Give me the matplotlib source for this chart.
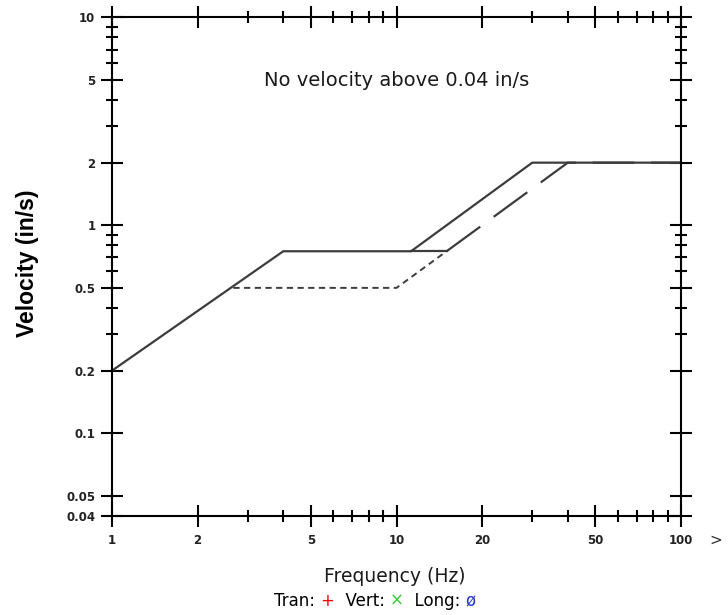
import matplotlib
matplotlib.use("Agg")
import matplotlib.pyplot as plt
from matplotlib.offsetbox import TextArea, HPacker, AnchoredOffsetbox

plt.rcParams['lines.scale_dashes'] = False

# ---- data ----
osm_freq = [1, 4, 11.25, 30, 100]
osm_vel = [0.2, 0.75, 0.75, 2.0, 2.0]

drywall_freq = [11.25, 15, 40, 100]
drywall_vel = [0.75, 0.75, 2.0, 2.0]

plaster_freq = [2.67, 10, 15]
plaster_vel = [0.5, 0.5, 0.75]

x_major = [1, 2, 5, 10, 20, 50, 100]
x_minor = [3, 4, 6, 7, 8, 9, 30, 40, 60, 70, 80, 90]
x_labels = ["1", "2", "5", "10", "20", "50", "100"]
y_major = [0.04, 0.05, 0.1, 0.2, 0.5, 1, 2, 5, 10]
y_minor = [0.3, 0.4, 0.6, 0.7, 0.8, 0.9, 3, 4, 6, 7, 8, 9]
y_labels = ["0.04", "0.05", "0.1", "0.2", "0.5", "1", "2", "5", "10"]

fig = plt.figure(figsize=(7.28, 6.15), dpi=100)
ax = fig.add_axes([112/728, 1-516/615, 569/728, (516-17.3)/615])
ax.set_xscale('log')
ax.set_yscale('log')
ax.set_xlim(1, 100)
ax.set_ylim(0.04, 10)

lc = '#3c3c3c'
ax.plot(osm_freq, osm_vel, color=lc, lw=1.6, solid_capstyle='butt')
# drywall: flat part solid-looking, slope long dashed
ax.plot(drywall_freq[:2], drywall_vel[:2], color=lc, lw=1.6)
ax.plot(drywall_freq[1:], drywall_vel[1:], color=lc, lw=1.6,
        linestyle=(0, (30, 12)))
ax.plot(plaster_freq, plaster_vel, color=lc, lw=1.4,
        linestyle=(0, (4.5, 3.2)))

ax.set_xticks(x_major)
ax.set_xticklabels(x_labels)
ax.set_xticks(x_minor, minor=True)
ax.set_xticklabels([], minor=True)
ax.set_yticks(y_major)
ax.set_yticklabels(y_labels)
ax.set_yticks(y_minor, minor=True)
ax.set_yticklabels([], minor=True)

for s in ax.spines.values():
    s.set_linewidth(1.5)
    s.set_color('black')

ax.tick_params(which='major', direction='inout', length=16, width=1.5,
               top=True, right=True, labelsize=8.5, colors='black')
ax.tick_params(which='minor', direction='inout', length=8.5, width=1.5,
               top=True, right=True)
ax.tick_params(axis='x', which='major', pad=5)
ax.tick_params(axis='y', which='major', pad=4)
for lab in ax.get_xticklabels() + ax.get_yticklabels():
    lab.set_fontweight('bold')
    lab.set_family('DejaVu Sans')
    lab.set_color('#222222')

ax.text(0.5, 0.873, "No velocity above 0.04 in/s", transform=ax.transAxes,
        ha='center', va='center', fontsize=14, family='DejaVu Sans',
        color='#1a1a1a')

fig.text(28/728, 1-263/615, "Velocity (in/s)", rotation=90, ha='center',
         va='center', fontsize=16.5, fontweight='bold', family='Liberation Sans')
fig.text(716/728, 1-540/615, ">", ha='center', va='center', fontsize=11,
         color='#333333')

fig.text(395/728, 1-577/615, "Frequency (Hz)", ha='center', va='center',
         fontsize=13.5, family='DejaVu Sans', color='#1a1a1a')

parts = [("Tran: ", 'black'), ("+", 'red'), ("  Vert: ", 'black'),
         ("\u00d7", '#33cc33'), ("  Long: ", 'black'), ("\u00f8", '#2233cc')]
areas = [TextArea(t, textprops=dict(color=c, fontsize=12, family='DejaVu Sans'))
         for t, c in parts]
box = HPacker(children=areas, align='baseline', pad=0, sep=0)
ab = AnchoredOffsetbox(loc='center', child=box, frameon=False,
                       bbox_to_anchor=(375/728, 1-601/615),
                       bbox_transform=fig.transFigure, borderpad=0, pad=0)
fig.add_artist(ab)

fig.savefig("out.png", dpi=100)
